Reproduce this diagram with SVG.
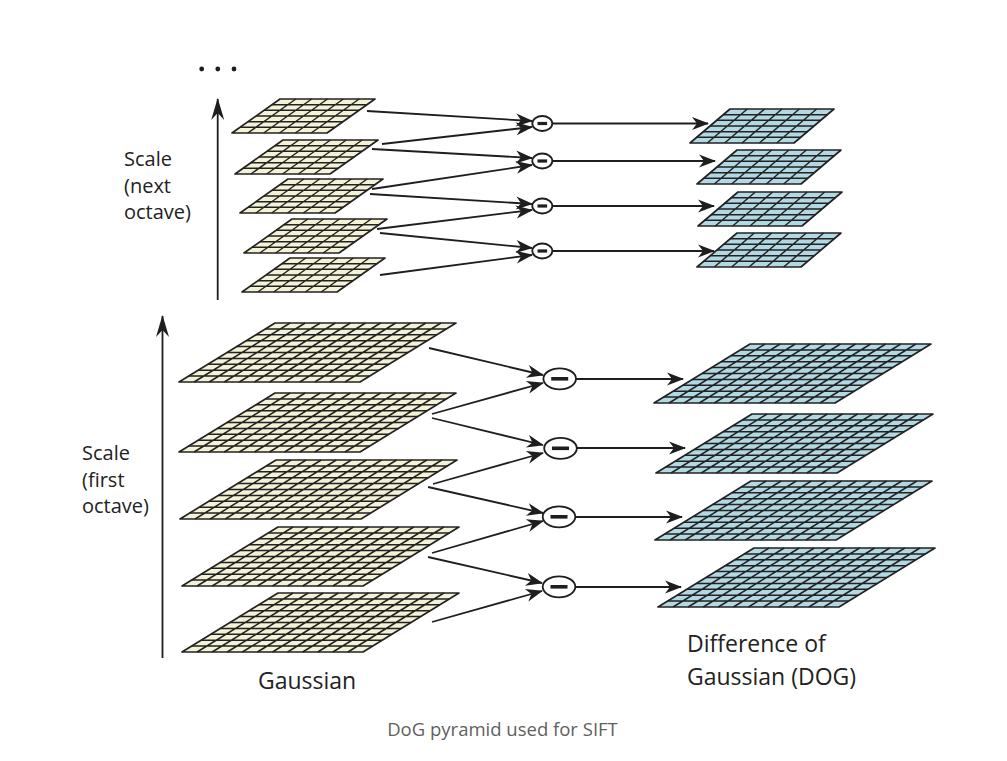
<svg xmlns="http://www.w3.org/2000/svg" xmlns:xlink="http://www.w3.org/1999/xlink" width="1007" height="761" viewBox="0 0 1007 761">
<style>
.gfill{fill:#f3f1d6}
.dfill{fill:#b2d9e3}
.grid{fill:none;stroke:#222;stroke-width:1.5}
.edge{fill:none;stroke:#222;stroke-width:1.7;stroke-linejoin:round}
.conn{fill:none;stroke:#1e1e1e;stroke-width:1.8}
.op{fill:#fff;stroke:#1e1e1e;stroke-width:1.8}
.bar{fill:#1e1e1e}
.lbl{font-family:"Open Sans","Noto Sans",sans-serif;fill:#222}
</style>
<defs>
<marker id="ah" viewBox="-20 -10 22 20" refX="0" refY="0" markerWidth="22" markerHeight="20" markerUnits="userSpaceOnUse" orient="auto" overflow="visible">
<path d="M1,0 L-16,-6.5 L-11,0 L-16,6.5 Z" fill="#1e1e1e"/>
</marker>
<marker id="ahv" viewBox="-24 -10 26 20" refX="0" refY="0" markerWidth="26" markerHeight="20" markerUnits="userSpaceOnUse" orient="auto" overflow="visible">
<path d="M1,0 L-21,-6.5 L-14,0 L-21,6.5 Z" fill="#1e1e1e"/>
</marker>
<g id="bigG">
<polygon class="gfill" points="0,0 181,0 85,59 -96,59"/>
<path class="grid" d="M-9.6,5.9H171.4M-19.2,11.8H161.8M-28.8,17.7H152.2M-38.4,23.6H142.6M-48,29.5H133M-57.6,35.4H123.4M-67.2,41.3H113.8M-76.8,47.2H104.2M-86.4,53.1H94.6M15.08,0l-96,59M30.17,0l-96,59M45.25,0l-96,59M60.33,0l-96,59M75.42,0l-96,59M90.5,0l-96,59M105.58,0l-96,59M120.67,0l-96,59M135.75,0l-96,59M150.83,0l-96,59M165.92,0l-96,59"/>
<polygon class="edge" points="0,0 181,0 85,59 -96,59"/>
</g>
<g id="bigD">
<polygon class="dfill" points="0,0 181,0 85,59 -96,59"/>
<path class="grid" d="M-9.6,5.9H171.4M-19.2,11.8H161.8M-28.8,17.7H152.2M-38.4,23.6H142.6M-48,29.5H133M-57.6,35.4H123.4M-67.2,41.3H113.8M-76.8,47.2H104.2M-86.4,53.1H94.6M15.08,0l-96,59M30.17,0l-96,59M45.25,0l-96,59M60.33,0l-96,59M75.42,0l-96,59M90.5,0l-96,59M105.58,0l-96,59M120.67,0l-96,59M135.75,0l-96,59M150.83,0l-96,59M165.92,0l-96,59"/>
<polygon class="edge" points="0,0 181,0 85,59 -96,59"/>
</g>
<g id="smallG">
<polygon class="gfill" points="0,0 95,0 47,34 -48,34"/>
<path class="grid" d="M-8,5.67H87M-16,11.33H79M-24,17H71M-32,22.67H63M-40,28.33H55M15.83,0l-48,34M31.67,0l-48,34M47.5,0l-48,34M63.33,0l-48,34M79.17,0l-48,34"/>
<polygon class="edge" points="0,0 95,0 47,34 -48,34"/>
</g>
<g id="smallD">
<polygon class="dfill" points="0,0 104,0 64,34 -40,34"/>
<path class="grid" d="M-6.67,5.67H97.33M-13.33,11.33H90.67M-20,17H84M-26.67,22.67H77.33M-33.33,28.33H70.67M17.33,0l-40,34M34.67,0l-40,34M52,0l-40,34M69.33,0l-40,34M86.67,0l-40,34"/>
<polygon class="edge" points="0,0 104,0 64,34 -40,34"/>
</g>
<g id="opBig">
<ellipse class="op" cx="0" cy="0" rx="16.3" ry="10.5"/>
<rect class="bar" x="-8.5" y="-1.8" width="17" height="3.6"/>
</g>
<g id="opSmall">
<ellipse class="op" cx="0" cy="0" rx="10" ry="7.5"/>
<rect class="bar" x="-4.8" y="-1.6" width="9.6" height="3.2"/>
</g>
</defs>

<rect width="1007" height="761" fill="#fff"/>

<g id="connectors">
<path class="conn" marker-end="url(#ahv)" d="M217.7,300V99"/>
<path class="conn" marker-end="url(#ahv)" d="M162.5,658V316"/>
<path class="conn" marker-end="url(#ah)" d="M367,111L532,121"/>
<path class="conn" marker-end="url(#ah)" d="M382,144L532,127"/>
<path class="conn" marker-end="url(#ah)" d="M372,149L532,158"/>
<path class="conn" marker-end="url(#ah)" d="M372,189L532,165"/>
<path class="conn" marker-end="url(#ah)" d="M370,194L532,204"/>
<path class="conn" marker-end="url(#ah)" d="M377,229L532,210"/>
<path class="conn" marker-end="url(#ah)" d="M380,233L532,248"/>
<path class="conn" marker-end="url(#ah)" d="M380,275L532,255"/>
<path class="conn" marker-end="url(#ah)" d="M552,123.5H708"/>
<path class="conn" marker-end="url(#ah)" d="M552,161H715"/>
<path class="conn" marker-end="url(#ah)" d="M552,206H714"/>
<path class="conn" marker-end="url(#ah)" d="M552,251H714"/>
<path class="conn" marker-end="url(#ah)" d="M429,348L543,375"/>
<path class="conn" marker-end="url(#ah)" d="M432,414L543,383"/>
<path class="conn" marker-end="url(#ah)" d="M432,418L543,445"/>
<path class="conn" marker-end="url(#ah)" d="M433,484L543,453"/>
<path class="conn" marker-end="url(#ah)" d="M428,487L543,513"/>
<path class="conn" marker-end="url(#ah)" d="M432,553L543,521"/>
<path class="conn" marker-end="url(#ah)" d="M428,557L542,583"/>
<path class="conn" marker-end="url(#ah)" d="M432,622L542,591"/>
<path class="conn" marker-end="url(#ah)" d="M576,379H683"/>
<path class="conn" marker-end="url(#ah)" d="M577,448H685"/>
<path class="conn" marker-end="url(#ah)" d="M575,517H682"/>
<path class="conn" marker-end="url(#ah)" d="M575,587H681"/>
</g>

<g id="gauss2-1"><use xlink:href="#smallG" x="280" y="99"/></g>
<g id="gauss2-2"><use xlink:href="#smallG" x="283" y="140"/></g>
<g id="gauss2-3"><use xlink:href="#smallG" x="288" y="179"/></g>
<g id="gauss2-4"><use xlink:href="#smallG" x="292" y="219"/></g>
<g id="gauss2-5"><use xlink:href="#smallG" x="290" y="258"/></g>

<g id="diff2-1"><use xlink:href="#opSmall" x="542.3" y="123.5"/></g>
<g id="diff2-2"><use xlink:href="#opSmall" x="542.3" y="161"/></g>
<g id="diff2-3"><use xlink:href="#opSmall" x="542.3" y="206"/></g>
<g id="diff2-4"><use xlink:href="#opSmall" x="542.3" y="251"/></g>

<g id="dog2-1"><use xlink:href="#smallD" x="730" y="109"/></g>
<g id="dog2-2"><use xlink:href="#smallD" x="737" y="150"/></g>
<g id="dog2-3"><use xlink:href="#smallD" x="738" y="192"/></g>
<g id="dog2-4"><use xlink:href="#smallD" x="737" y="233"/></g>

<g id="gauss1-1"><use xlink:href="#bigG" x="275" y="323"/></g>
<g id="gauss1-2"><use xlink:href="#bigG" x="275" y="393"/></g>
<g id="gauss1-3"><use xlink:href="#bigG" x="276" y="460"/></g>
<g id="gauss1-4"><use xlink:href="#bigG" x="278" y="527"/></g>
<g id="gauss1-5"><use xlink:href="#bigG" x="278" y="593"/></g>

<g id="diff1-1"><use xlink:href="#opBig" x="559.7" y="378.8"/></g>
<g id="diff1-2"><use xlink:href="#opBig" x="560.5" y="448.3"/></g>
<g id="diff1-3"><use xlink:href="#opBig" x="559" y="516.8"/></g>
<g id="diff1-4"><use xlink:href="#opBig" x="559" y="586.8"/></g>

<g id="dog1-1"><use xlink:href="#bigD" x="750" y="344"/></g>
<g id="dog1-2"><use xlink:href="#bigD" x="752" y="414"/></g>
<g id="dog1-3"><use xlink:href="#bigD" x="751" y="481"/></g>
<g id="dog1-4"><use xlink:href="#bigD" x="754" y="548"/></g>

<g id="ellipsis" fill="#1e1e1e">
<circle cx="201.7" cy="69" r="2.4"/>
<circle cx="217.8" cy="69" r="2.4"/>
<circle cx="234" cy="69" r="2.4"/>
</g>

<g id="label-next" class="lbl" font-size="20">
<text x="124" y="166">Scale</text>
<text x="124" y="193">(next</text>
<text x="124" y="219">octave)</text>
</g>
<g id="label-first" class="lbl" font-size="20">
<text x="82" y="460">Scale</text>
<text x="82" y="487">(first</text>
<text x="82" y="513">octave)</text>
</g>
<g id="label-gaussian" class="lbl" font-size="23">
<text x="258" y="689">Gaussian</text>
</g>
<g id="label-dog" class="lbl" font-size="23">
<text x="687" y="652">Difference of</text>
<text x="687" y="685">Gaussian (DOG)</text>
</g>
<g id="caption">
<text x="502.5" y="736" text-anchor="middle" font-family="Open Sans, Noto Sans, sans-serif" font-size="18.5" fill="#5f5f5f">DoG pyramid used for SIFT</text>
</g>
</svg>
